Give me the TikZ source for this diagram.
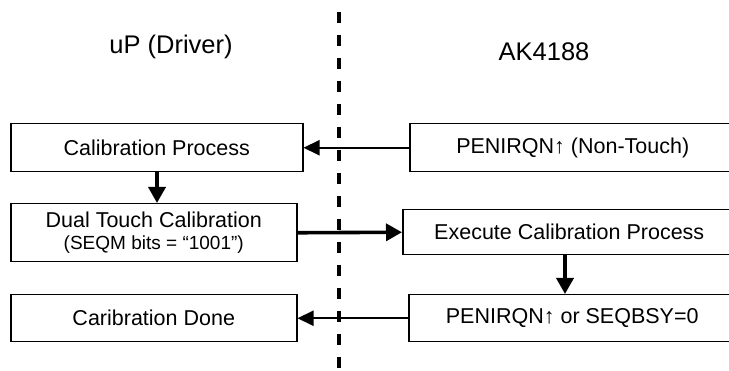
\documentclass[tikz,border=0pt]{standalone}
\usepackage{fontspec}
\setmainfont{Liberation Sans}
\usetikzlibrary{arrows.meta}
\begin{document}
\begin{tikzpicture}[x=1pt,y=-1pt,
  box/.style={draw=black,line width=1.5pt,inner sep=0pt,anchor=north west,align=center,
    font=\fontsize{21.5}{25}\selectfont},
  title/.style={anchor=base,inner sep=0pt,font=\fontsize{25.5}{30}\selectfont},
  thinarrow/.style={line width=2pt,-{Triangle[length=16pt,width=15pt]}},
  thickarrow/.style={line width=3.6pt,-{Triangle[length=16pt,width=17pt]}},
  divider/.style={line width=3.6pt,dash pattern=on 11pt off 12pt}]
\clip (0,0) rectangle (729,371);
\fill[white] (0,0) rectangle (729,371);
% titles
\node[title] (tl) at (171,54) {uP (Driver)};
\node[title] (tr) at (544,61) {AK4188};
% divider
\coordinate (dtop) at (339,12);
\coordinate (dbot) at (339,380);
\draw[divider] (dtop) -- (dbot);
% left boxes
\node[box,minimum width=292pt,minimum height=48pt] (cp) at (10,123) {Calibration Process};
\node[box,minimum width=286pt,minimum height=58pt] (dual) at (10,203)
  {Dual Touch Calibration\\[-3pt]{\fontsize{19}{22}\selectfont (SEQM bits = “1001”)}};
\node[box,minimum width=286pt,minimum height=47pt] (done) at (10,294) {Caribration Done};
% right boxes
\node[box,minimum width=326pt,minimum height=48pt] (pen1) at (409,123) {PENIRQN↑ (Non-Touch)};
\node[box,minimum width=333pt,minimum height=45pt] (exec) at (402,209) {Execute Calibration Process};
\node[box,minimum width=327pt,minimum height=47pt] (pen2) at (408,294) {PENIRQN↑ or SEQBSY=0};
% connectors
\coordinate (ax1) at (157,0);
\coordinate (ax2) at (565,0);
\draw[thinarrow] (pen1.west) -- (cp.east);
\draw[thickarrow] (cp.south -| ax1) -- (dual.north -| ax1);
\draw[thickarrow] (dual.east) -- (exec.west);
\draw[thickarrow] (exec.south -| ax2) -- (pen2.north -| ax2);
\draw[thinarrow] (pen2.west) -- (done.east);
\end{tikzpicture}
\end{document}
